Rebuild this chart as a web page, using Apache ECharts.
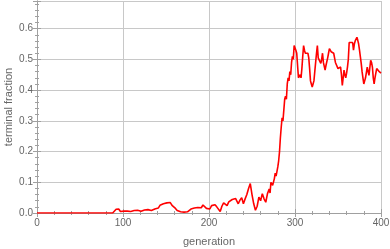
<!DOCTYPE html>
<html><head><meta charset="utf-8">
<script src="https://cdn.jsdelivr.net/npm/echarts@6/dist/echarts.min.js"></script>
<style>html,body{margin:0;padding:0;background:#fff}#c{width:390px;height:249px}</style>
</head><body><div id="c"></div>
<script>
const gens = [0,10,20,30,40,50,60,70,80,88,90,92,93,95,97,99,101,103,105,107,109,111,113,115,117,119,121,123,125,127,129,131,133,135,137,139,141,143,145,147,149,151,153,155,157,159,161,163,165,167,169,171,173,175,177,179,181,183,185,187,189,191,193,195,197,199,201,203,205,207,209,211,213,215,217,219,221,223,225,227,229,231,233,234,236,238,240,242,244,246,248,250,252,254,256,258,260,262,264,266,268,270,271,272,274,276,277,278,280,281,282,283,284,285,286,287,288,289,290,291,292,293,294,295,296,297,298,299,300,301,302,303,304,305,306,307,308,309,310,311,312,313,314,315,316,317,318,319,320,321,322,323,325,326,327,328,330,331,332,333,335,336,338,339,340,342,344,345,346,347,349,350,351,353,354,355,356,357,358,359,360,361,362,363,365,367,368,369,370,372,373,374,375,377,378,379,380,381,382,384,385,386,388,389,390,391,392,393,394,395,396,397,398,400];
const fracs = [0,0,0,0,0,0,0,0,0,0,0.004,0.012,0.008,0.013,0.005,0.009,0.006,0.01,0.006,0.009,0.005,0.011,0.008,0.012,0.009,0.004,0.006,0.003,0.01,0.007,0.011,0.005,0.008,0.004,0.013,0.01,0.016,0.025,0.02,0.03,0.024,0.033,0.028,0.034,0.025,0.03,0.015,0.008,0.011,0.004,0.007,0.003,0.006,0.004,0.009,0.013,0.01,0.016,0.012,0.018,0.022,0.017,0.026,0.02,0.015,0.021,0.013,0.024,0.018,0.027,0.02,0.017,0.005,0.022,0.033,0.028,0.024,0.036,0.03,0.044,0.038,0.047,0.052,0.03,0.042,0.05,0.03,0.046,0.06,0.08,0.096,0.06,0.03,0.009,0.022,0.052,0.04,0.063,0.046,0.035,0.063,0.078,0.065,0.1,0.09,0.112,0.13,0.12,0.15,0.17,0.2,0.245,0.28,0.31,0.3,0.335,0.37,0.38,0.37,0.42,0.44,0.43,0.46,0.45,0.49,0.51,0.5,0.545,0.55,0.53,0.52,0.48,0.44,0.44,0.45,0.44,0.47,0.51,0.545,0.53,0.52,0.525,0.52,0.52,0.505,0.47,0.43,0.42,0.41,0.42,0.43,0.46,0.52,0.545,0.505,0.5,0.487,0.5,0.52,0.49,0.465,0.48,0.505,0.52,0.535,0.525,0.52,0.52,0.505,0.49,0.49,0.47,0.465,0.475,0.45,0.415,0.44,0.465,0.45,0.44,0.455,0.475,0.5,0.555,0.55,0.555,0.53,0.55,0.56,0.572,0.562,0.55,0.53,0.487,0.46,0.44,0.42,0.43,0.44,0.475,0.46,0.448,0.497,0.49,0.475,0.44,0.42,0.44,0.455,0.47,0.475,0.47,0.46,0.455];
const xTitle = 'generation';
const yTitle = 'terminal fraction';

const chart = echarts.init(document.getElementById('c'), null, {renderer:'canvas'});
const FONT = 'Liberation Sans';
const frameLine = {show:true, lineStyle:{color:'#a0a0a0', width:1}};
const tickMajor = {show:true, inside:true, length:4, lineStyle:{color:'#a0a0a0'}};
const tickMinor = {show:true, splitNumber:5, length:2, lineStyle:{color:'#a0a0a0'}};
const lbl = {color:'#666', fontSize:10, fontFamily:FONT};
chart.setOption({
  animation:false,
  grid:{left:37, right:9, top:1, bottom:36, containLabel:false, outerBoundsMode:'none'},
  xAxis:[{type:'value', min:0, max:400, interval:100, position:'bottom',
    name:xTitle, nameLocation:'middle', nameGap:23, nameMoveOverlap:false,
    nameTextStyle:{color:'#666', fontSize:11, fontFamily:FONT},
    axisLine:frameLine, axisTick:tickMajor, minorTick:tickMinor,
    axisLabel:Object.assign({margin:5}, lbl),
    splitLine:{show:true, lineStyle:{color:'#c8c8c8', width:1}}},
   {type:'value', min:0, max:400, interval:100, position:'top',
    axisLine:frameLine, axisTick:tickMajor, minorTick:tickMinor,
    axisLabel:{show:false}, splitLine:{show:false}}],
  yAxis:[{type:'value', min:0, max:0.69, interval:0.1, position:'left',
    name:yTitle, nameLocation:'middle', nameGap:23, nameMoveOverlap:false,
    nameTextStyle:{color:'#666', fontSize:11, fontFamily:FONT},
    axisLine:frameLine, axisTick:tickMajor, minorTick:tickMinor,
    axisLabel:Object.assign({margin:4, showMaxLabel:false, formatter:v=>v.toFixed(1)}, lbl),
    splitLine:{show:true, lineStyle:{color:'#c8c8c8', width:1}}},
   {type:'value', min:0, max:0.69, interval:0.1, position:'right',
    axisLine:frameLine, axisTick:tickMajor, minorTick:tickMinor,
    axisLabel:{show:false}, splitLine:{show:false}}],
  series:[{type:'line', xAxisIndex:0, yAxisIndex:0, showSymbol:false,
    data:gens.map((g,i)=>[g,fracs[i]]),
    lineStyle:{color:'#ff0000', width:1.6}}]
});
</script></body></html>
